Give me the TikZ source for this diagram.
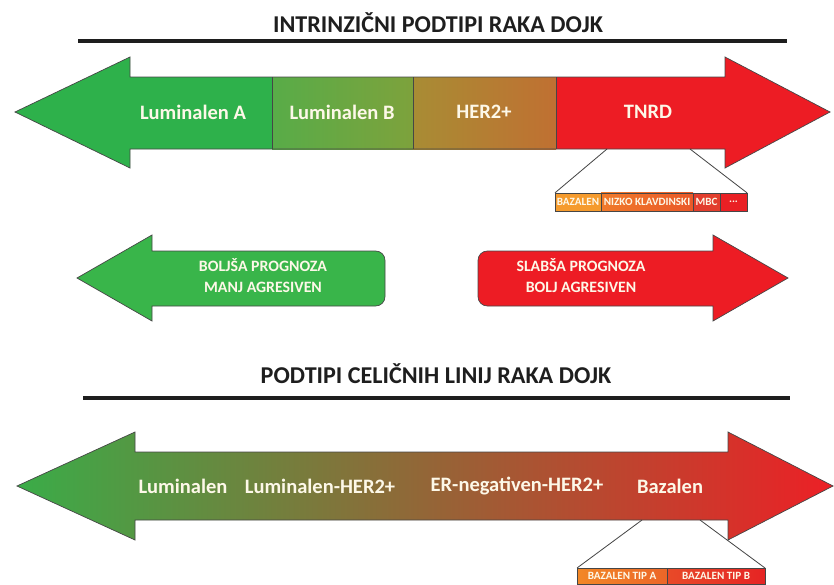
\documentclass[tikz,border=0pt]{standalone}
\usepackage{fontspec}
\setmainfont{Carlito}
\usetikzlibrary{positioning,calc}
\definecolor{lumAgreen}{RGB}{46,177,75}
\definecolor{lumBleft}{RGB}{88,172,72}
\definecolor{lumBright}{RGB}{125,162,60}
\definecolor{herleft}{RGB}{168,140,52}
\definecolor{herright}{RGB}{192,112,50}
\definecolor{tnrdred}{RGB}{237,28,36}
\definecolor{goodgreen}{RGB}{57,181,74}
\definecolor{badred}{RGB}{237,28,36}
\definecolor{lineleft}{RGB}{58,172,72}
\definecolor{linemid}{RGB}{205,158,66}
\definecolor{lineright}{RGB}{236,32,38}
\definecolor{labelcream}{RGB}{253,248,232}
\definecolor{edgegray}{RGB}{70,70,70}
\definecolor{headgray}{RGB}{30,30,30}
\definecolor{bazorange}{RGB}{245,155,45}
\definecolor{nizkoleft}{RGB}{240,122,42}
\definecolor{nizkoright}{RGB}{234,88,40}
\definecolor{mbcred}{RGB}{226,62,45}
\definecolor{etcred}{RGB}{234,32,36}
\definecolor{tipAleft}{RGB}{242,135,38}
\definecolor{tipAright}{RGB}{236,102,40}
\definecolor{tipBleft}{RGB}{232,74,40}
\definecolor{tipBright}{RGB}{230,36,36}

\begin{document}
\begin{tikzpicture}[x=0.03cm, y=-0.03cm,
  heading/.style={font=\fontsize{20.6}{24}\selectfont\bfseries, text=headgray},
  ruler/.style={line width=3pt, draw=headgray},
  outline/.style={draw=edgegray, line width=0.6pt},
  seglabel/.style={font=\fontsize{17.5}{20}\selectfont\bfseries, text=labelcream},
  prognosis/.style={font=\fontsize{13.5}{18}\selectfont\bfseries, text=labelcream, align=center},
  subbox/.style={draw=edgegray, line width=0.5pt, minimum height=0.55cm, inner sep=0pt, outer sep=0pt, font=\fontsize{9.5}{10}\selectfont\bfseries, text=labelcream},
  zoomline/.style={draw=edgegray, line width=0.7pt}]
\useasboundingbox (0,0) rectangle (834,585);

% intrinsic subtypes
\node[heading] (title1) at (438,23) {INTRINZIČNI PODTIPI RAKA DOJK};
\draw[ruler] (78,41) -- (787,41);

\fill[lumAgreen] (272,77) -- (130,77) -- (130,57) -- (15,112) -- (130,168) -- (130,149) -- (272,149) -- cycle;
\shade[left color=lumBleft, right color=lumBright] (272,77) rectangle (413,149);
\shade[left color=herleft, right color=herright] (413,77) rectangle (556,149);
\fill[tnrdred] (556,77) -- (725,77) -- (725,57) -- (830,112) -- (725,168) -- (725,149) -- (556,149) -- cycle;
\draw[outline] (15,112) -- (130,57) -- (130,77) -- (725,77) -- (725,57) -- (830,112) -- (725,168) -- (725,149) -- (130,149) -- (130,168) -- cycle;
\draw[outline] (272,77) -- (272,149) (413,77) -- (413,149) (556,77) -- (556,149);

\node[seglabel] (lumA) at (193,112) {Luminalen A};
\node[seglabel] (lumB) at (342,112) {Luminalen B};
\node[seglabel] (her) at (484,112) {HER2+};
\node[seglabel] (tnrd) at (648,112) {TNRD};

\coordinate (tnrdL) at (607,149);
\coordinate (tnrdR) at (690,149);
\node[subbox, fill=bazorange, minimum width=1.38cm, anchor=west] (baz) at (555,202) {BAZALEN};
\node[subbox, left color=nizkoleft, right color=nizkoright, minimum width=2.76cm, right=0pt of baz] (nizko) {NIZKO KLAVDINSKI};
\node[subbox, fill=mbcred, minimum width=0.81cm, right=0pt of nizko] (mbc) {MBC};
\node[subbox, fill=etcred, minimum width=0.81cm, right=0pt of mbc] (etc) {...\hspace{3mm}};
\draw[zoomline] (tnrdL) -- (baz.north west);
\draw[zoomline] (tnrdR) -- (etc.north east);

% prognosis
\draw[outline, fill=goodgreen] (77,278) -- (152,235) -- (152,251) [rounded corners=8pt] -- (385,251) -- (385,306) [sharp corners] -- (152,306) -- (152,321) -- cycle;
\node[prognosis] (good) at (263,276) {BOLJŠA PROGNOZA\\MANJ AGRESIVEN};
\draw[outline, fill=badred] (788,278) -- (713,235) -- (713,251) [rounded corners=8pt] -- (478,251) -- (478,306) [sharp corners] -- (713,306) -- (713,321) -- cycle;
\node[prognosis] (bad) at (581,276) {SLABŠA PROGNOZA\\BOLJ AGRESIVEN};

% cell lineage subtypes
\node[heading] (title2) at (436,374) {PODTIPI CELIČNIH LINIJ RAKA DOJK};
\draw[ruler] (83,398) -- (790,398);

\shade[left color=lineleft, middle color=linemid, right color=lineright] (17,486) -- (135,432) -- (135,452) -- (728,452) -- (728,432) -- (833,486) -- (728,540) -- (728,520) -- (135,520) -- (135,540) -- cycle;
\draw[outline] (17,486) -- (135,432) -- (135,452) -- (728,452) -- (728,432) -- (833,486) -- (728,540) -- (728,520) -- (135,520) -- (135,540) -- cycle;

\node[seglabel] (lum) at (183,486) {Luminalen};
\node[seglabel] (lumher) at (320,486) {Luminalen-HER2+};
\node[seglabel] (erneg) at (517,486) {ER-negativen-HER2+};
\node[seglabel] (bazalen) at (670,486) {Bazalen};

\coordinate (bazL) at (642,520);
\coordinate (bazR) at (700,520);
\node[subbox, left color=tipAleft, right color=tipAright, minimum width=2.7cm, minimum height=0.5cm, anchor=north west] (tipA) at (577,568) {BAZALEN TIP A};
\node[subbox, left color=tipBleft, right color=tipBright, minimum width=2.94cm, minimum height=0.5cm, right=0pt of tipA] (tipB) {BAZALEN TIP B};
\draw[zoomline] (bazL) -- (tipA.north west);
\draw[zoomline] (bazR) -- (tipB.north east);
\end{tikzpicture}
\end{document}
